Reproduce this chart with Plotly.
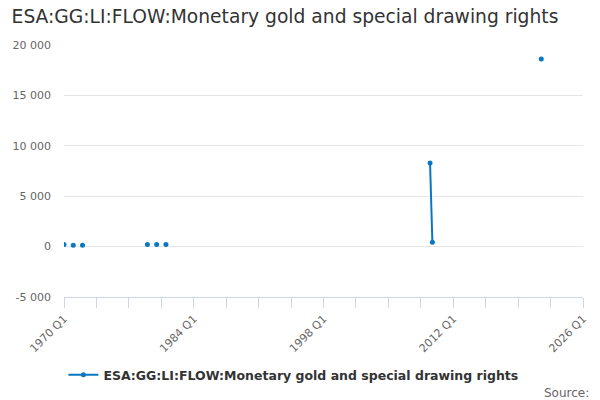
import plotly.graph_objects as go

# Quarterly data (None marks a gap so points aren't joined)
quarters = ["1970-01-01", "1970-04-01", "1971-01-01", "1971-04-01", "1972-01-01", "1972-04-01",
            "1979-01-01", "1979-04-01", "1980-01-01", "1980-04-01", "1981-01-01", "1981-04-01",
            "2009-07-01", "2009-10-01", "2010-01-01",
            "2021-07-01"]
values = [200, None, 130, None, 130, None,
          220, None, 220, None, 220, None,
          8300, 430, None,
          18600]

series_name = "ESA:GG:LI:FLOW:Monetary gold and special drawing rights"
title_text = "ESA:GG:LI:FLOW:Monetary gold and special drawing rights"
y_tickvals = [-5000, 0, 5000, 10000, 15000, 20000]
y_ticktext = ["-5 000", "0", "5 000", "10 000", "15 000", "20 000"]

color = "#0a77c2"
font_family = "DejaVu Sans"

fig = go.Figure()
fig.add_trace(go.Scatter(
    x=quarters, y=values, name=series_name, mode="lines+markers",
    connectgaps=False,
    line=dict(color=color, width=2),
    marker=dict(color=color, size=5),
))

fig.update_layout(
    width=600, height=400,
    paper_bgcolor="white", plot_bgcolor="white",
    margin=dict(l=64, r=17, t=45, b=103, autoexpand=False),
    font=dict(family=font_family, color="#666666", size=11),
    title=dict(text=title_text, x=0.475, xanchor="center", y=0.96, yanchor="middle",
               font=dict(family=font_family, size=18.7, color="#333333")),
    showlegend=True,
    legend=dict(orientation="h", x=0.442, xanchor="center", y=-0.31, yanchor="middle",
                font=dict(family=font_family, size=12.5, color="#333333", weight="bold"),
                itemwidth=30),
    xaxis=dict(
        type="date", range=["1970-01-01", "2026-01-01"], automargin=False,
        tickmode="linear", tick0="1970-01-01", dtick="M168",
        tickformat="%Y Q1", tickangle=-45,
        ticks="outside", ticklen=10, tickcolor="#ccd6eb",
        showline=True, linecolor="#ccd6eb", linewidth=1,
        showgrid=False, zeroline=False,
        tickfont=dict(size=11, color="#666666"),
        minor=dict(tickmode="linear", tick0="1970-01-01", dtick="M42",
                   ticks="outside", ticklen=10, tickcolor="#ccd6eb", showgrid=False),
    ),
    yaxis=dict(
        range=[-5000, 20000], tickmode="array", automargin=False,
        tickvals=y_tickvals, ticktext=y_ticktext,
        showgrid=True, gridcolor="#e6e6e6", gridwidth=1,
        zeroline=False, showline=False, ticks="",
        ticklabelstandoff=12,
        tickfont=dict(size=11, color="#666666"),
    ),
)

fig.add_annotation(text="Source:", xref="paper", yref="paper", x=1.0 + 8/519, y=-0.379,
                   xanchor="right", yanchor="middle", showarrow=False,
                   font=dict(family=font_family, size=12, color="#666666"))

fig.write_html("out.html", config={"displayModeBar": False},
               post_script="document.body.style.margin='0';")
